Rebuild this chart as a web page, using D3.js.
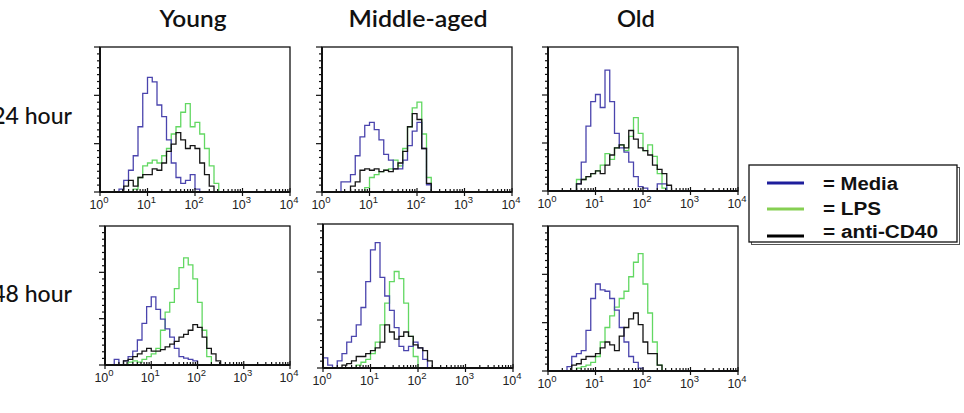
<!DOCTYPE html>
<html><head><meta charset="utf-8">
<script src="https://cdn.jsdelivr.net/npm/d3@7"></script>
<style>body{margin:0;background:#fff}svg{display:block}</style>
</head><body>
<script>
// ---------------- data ----------------
const ages = ["Young", "Middle-aged", "Old"];
const times = ["24 hour", "48 hour"];
const treatments = ["Media", "LPS", "anti-CD40"];
const tickExponents = [0, 1, 2, 3, 4];
const binDecades = 0.1; // each value = one 0.1-decade bin starting at 10^0

const young24Media = [0,0,0,0,2,8,15,25,45,68,79,76,60,52,36,20,10,6,8,12,2];
const young24LPS   = [0,0,0,0,0,0,0,2,10,18,20,22,20,25,30,40,45,55,61,45,48,40,30,18,6];
const young24CD40  = [0,0,0,0,0,4,8,4,10,12,12,16,15,20,28,33,41,36,30,32,30,20,12,4];

const middle24Media = [0,0,0,0,7,7,12,25,38,46,48,43,36,26,22,16,16,22,32,42,48,30,5];
const middle24LPS   = [0,0,0,0,0,0,0,0,0,3,10,12,14,15,16,22,18,30,45,58,62,40,10];
const middle24CD40  = [0,0,0,0,0,0,4,7,15,16,15,16,14,15,14,16,20,28,45,54,50,30,6];

const old24Media = [0,0,0,0,0,0,5,20,45,62,67,58,84,62,40,30,27,20,10,3,2,0,0,5,5];
const old24LPS   = [0,0,0,0,0,0,8,8,10,12,14,18,26,22,30,32,28,38,51,40,28,32,24,12,2];
const old24CD40  = [0,0,0,0,0,0,5,8,10,12,14,12,18,25,30,32,30,42,36,30,28,25,18,15,12,4];

const young48Media = [0,0,4,0,3,6,10,18,30,42,49,40,33,26,20,12,6,5,4,3];
const young48LPS   = [0,0,0,0,0,2,3,2,4,6,8,12,25,38,45,55,70,77,72,62,45,25,6];
const young48CD40  = [0,0,0,0,3,4,6,8,10,12,10,10,11,13,15,17,20,22,25,29,27,20,12,8,3];

const middle48Media = [7,2,0,5,10,18,22,30,42,60,82,87,63,50,40,28,15,12,15,18,14,6];
const middle48LPS   = [0,0,0,0,0,0,0,2,4,6,10,18,30,45,60,67,62,45,22,8];
const middle48CD40  = [0,0,0,0,2,3,5,8,8,10,12,14,18,30,25,20,22,25,22,16,14,12,5];

const old48Media = [0,0,0,0,3,10,12,14,28,50,60,56,55,50,42,30,20,10,6,2];
const old48LPS   = [0,0,0,0,0,0,2,3,4,6,10,20,30,38,44,50,55,65,75,81,60,40,20,4];
const old48CD40  = [0,0,0,0,0,4,5,8,10,10,12,16,20,18,14,24,30,36,40,32,20,12,12,4];

const panelSeries = [
  [young24Media, young24LPS, young24CD40],
  [middle24Media, middle24LPS, middle24CD40],
  [old24Media, old24LPS, old24CD40],
  [young48Media, young48LPS, young48CD40],
  [middle48Media, middle48LPS, middle48CD40],
  [old48Media, old48LPS, old48CD40]
];

// ---------------- layout / style ----------------
const W = 964, H = 413;
const boxes = [
  {x0:100, x1:290, y0:47,  y1:192},
  {x0:322, x1:512, y0:47,  y1:192},
  {x0:548, x1:738, y0:47,  y1:191},
  {x0:105, x1:290, y0:226, y1:365},
  {x0:323, x1:513, y0:224, y1:368},
  {x0:548, x1:738, y0:226, y1:371}
];
const lineColors = ["#4a44ad", "#62d862", "#151515"];
const legendColors = ["#1e1e9c", "#86cf52", "#000000"];
const drawOrder = [1, 0, 2];

const svg = d3.select("body").append("svg").attr("width", W).attr("height", H);

// column titles
const titleX = [193, 418, 636];
const titleW = [67, 139, 38];
ages.forEach((a, i) => {
  svg.append("text").attr("x", titleX[i]).attr("y", 27)
    .attr("text-anchor", "middle")
    .attr("textLength", titleW[i]).attr("lengthAdjust", "spacingAndGlyphs")
    .style("font-family", "Lato, 'Open Sans', sans-serif")
    .style("font-size", "22px").style("font-weight", "600").style("fill", "#111")
    .text(a);
});
// row labels
const rowY = [124, 302];
times.forEach((t, i) => {
  svg.append("text").attr("x", 72).attr("y", rowY[i])
    .attr("text-anchor", "end")
    .style("font-family", "Lato, 'Open Sans', sans-serif")
    .style("font-size", "23px").style("font-weight", "500").style("fill", "#111")
    .text(t);
});

panelSeries.forEach((series, p) => {
  const b = boxes[p];
  const x = d3.scaleLog().domain([1, 1e4]).range([b.x0, b.x1]);
  const y = d3.scaleLinear().domain([0, 100]).range([b.y1, b.y0]);
  const g = svg.append("g");

  // frame
  g.append("rect").attr("x", b.x0).attr("y", b.y0)
    .attr("width", b.x1 - b.x0).attr("height", b.y1 - b.y0)
    .attr("fill", "#fff").attr("stroke", "#111").attr("stroke-width", 1.3);

  // histograms
  const line = d3.line().x(d => x(d[0])).y(d => y(d[1])).curve(d3.curveStepAfter);
  drawOrder.forEach(k => {
    const vals = series[k];
    const pts = vals.map((v, i) => [Math.pow(10, i * binDecades), v]);
    pts.push([Math.pow(10, vals.length * binDecades), 0]);
    pts.push([1e4, 0]);
    g.append("path").datum(pts).attr("d", line)
      .attr("fill", "none").attr("stroke", lineColors[k])
      .attr("stroke-width", 1.3).attr("stroke-linejoin", "miter");
  });

  // x axis (bottom)
  const isMajor = d => Math.abs(Math.log10(d) - Math.round(Math.log10(d))) < 1e-9;
  const xTicks = x.ticks();
  g.append("g").selectAll("line").data(xTicks).join("line")
    .attr("x1", d => x(d)).attr("x2", d => x(d))
    .attr("y1", d => isMajor(d) ? b.y1 + 4 : b.y1)
    .attr("y2", d => isMajor(d) ? b.y1 - 4 : b.y1 - 3)
    .attr("stroke", "#111").attr("stroke-width", 1.2);
  g.append("line").attr("x1", b.x0).attr("x2", b.x1).attr("y1", b.y1).attr("y2", b.y1)
    .attr("stroke", "#111").attr("stroke-width", 2.2);

  // y axis (left)
  const yTicks = d3.range(0, 22).map(i => i * 100 / 21);
  g.append("g").selectAll("line").data(yTicks).join("line")
    .attr("x1", b.x0).attr("x2", (d, i) => i % 7 === 0 ? b.x0 - 6 : b.x0 - 3)
    .attr("y1", d => y(d)).attr("y2", d => y(d))
    .attr("stroke", "#111").attr("stroke-width", 1.2);
  g.append("line").attr("x1", b.x0).attr("x2", b.x0).attr("y1", b.y0).attr("y2", b.y1)
    .attr("stroke", "#111").attr("stroke-width", 2);

  // tick labels
  const lab = g.append("g").selectAll("text").data(tickExponents).join("text")
    .attr("x", d => x(Math.pow(10, d)) - 1).attr("y", b.y1 + 17)
    .attr("text-anchor", "middle")
    .style("font-family", "'Liberation Sans', Arial, sans-serif")
    .style("font-size", "12.5px").style("fill", "#222");
  lab.append("tspan").text("10");
  lab.append("tspan").attr("dy", -6).style("font-size", "9.5px").text(d => d);
});

// legend
const L = {x:749, y:165, w:208, h:77};
svg.append("rect").attr("x", L.x + 2.5).attr("y", L.y + 2.5).attr("width", L.w).attr("height", L.h)
  .attr("fill", "none").attr("stroke", "#555").attr("stroke-width", 1);
svg.append("rect").attr("x", L.x).attr("y", L.y).attr("width", L.w).attr("height", L.h)
  .attr("fill", "#fff").attr("stroke", "#111").attr("stroke-width", 1.3);
const legLineY = [183, 209, 236];
const legTextY = [190, 215, 238];
const legTextW = [75, 58, 115];
treatments.forEach((t, i) => {
  svg.append("line").attr("x1", 767).attr("x2", 804).attr("y1", legLineY[i]).attr("y2", legLineY[i])
    .attr("stroke", legendColors[i]).attr("stroke-width", 3);
  svg.append("text").attr("x", 823).attr("y", legTextY[i])
    .attr("textLength", legTextW[i]).attr("lengthAdjust", "spacingAndGlyphs")
    .style("font-family", "'Liberation Sans', Arial, sans-serif")
    .style("font-weight", "bold").style("font-size", "18px").style("fill", "#111")
    .text("= " + t);
});
</script>
</body></html>
